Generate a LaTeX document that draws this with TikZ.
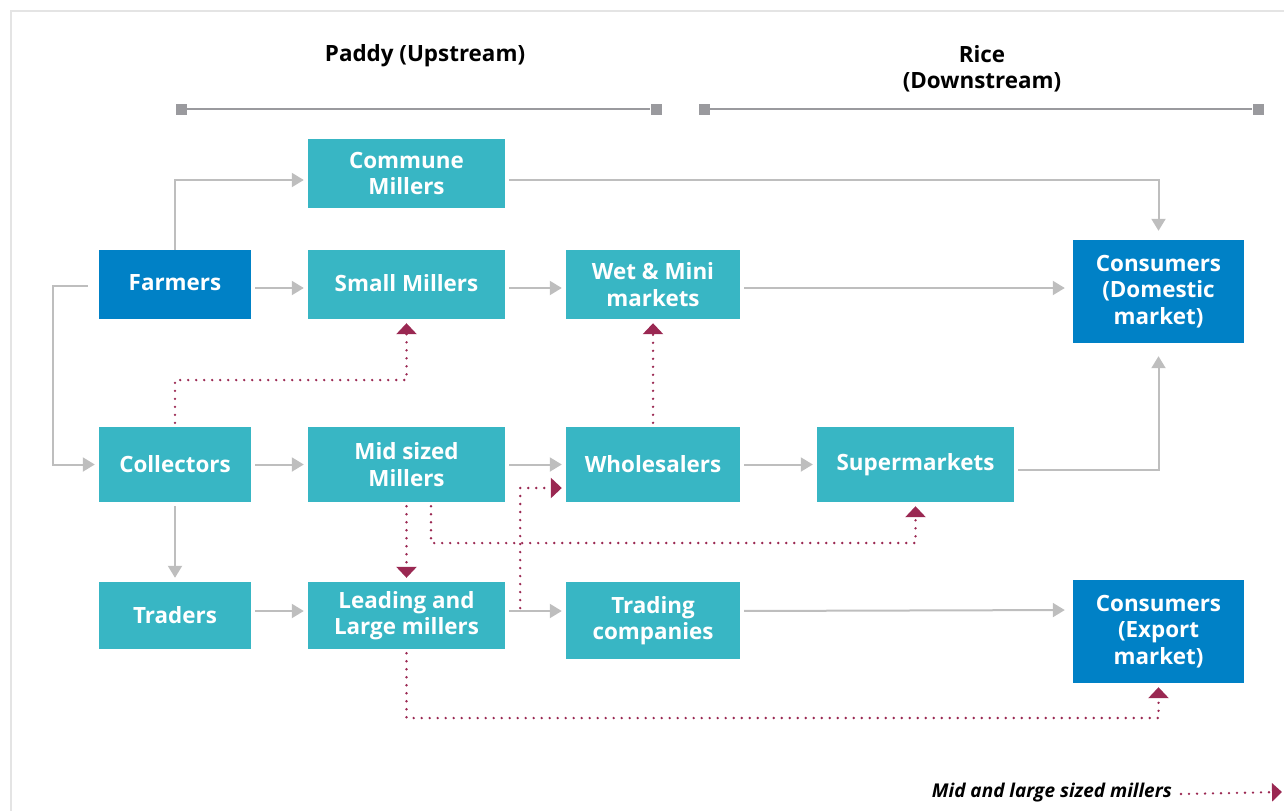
\documentclass[tikz,border=0pt]{standalone}
\usepackage{fontspec}
\setmainfont{Open Sans}
\usetikzlibrary{arrows.meta,calc}
\definecolor{tealbox}{HTML}{38B6C4}
\definecolor{bluebox}{HTML}{0081C6}
\definecolor{maroonline}{HTML}{9A2852}
\definecolor{arrgray}{HTML}{BEBEBE}
\definecolor{bargray}{HTML}{9A9A9E}
\definecolor{framegray}{HTML}{E4E4E4}
\tikzset{
  box/.style={fill=tealbox, text=white, font=\fontsize{22.4}{26.5}\selectfont\bfseries, align=center, inner sep=0pt},
  bbox/.style={box, fill=bluebox},
  garrow/.style={draw=arrgray, line width=2pt, -{Triangle[length=12pt,width=14pt]}, shorten >=4pt, shorten <=4pt},
  marrow/.style={draw=maroonline, line width=2.6pt, line cap=round, dash pattern=on 0pt off 8pt, -{Triangle[length=11pt,width=20pt]}, shorten >=4pt, shorten <=4pt},
  header/.style={font=\fontsize{22.4}{26.5}\selectfont\bfseries, align=center, inner sep=0pt},
  legtext/.style={font=\fontsize{19}{22}\selectfont\bfseries\itshape, inner sep=0pt},
  barline/.style={draw=bargray, line width=2.6pt},
  barsq/.style={fill=bargray, minimum size=11pt, inner sep=0pt},
}
\begin{document}
\begin{tikzpicture}[x=1pt,y=-1pt]
\useasboundingbox (0,0) rectangle (1284,811);
\draw[framegray, line width=2pt] (10.5,811) -- (10.5,10.5) -- (1284,10.5);

% headers
\node[header] (hpaddy) at (425,56) {Paddy (Upstream)};
\node[header] (hrice) at (982,69) {Rice\\(Downstream)};
\node[barsq] (b1) at (181,109) {};
\node[barsq] (b2) at (656,109) {};
\node[barsq] (b3) at (704,109) {};
\node[barsq] (b4) at (1258,109) {};
\draw[barline] (b1) -- (b2);
\draw[barline] (b3) -- (b4);

% boxes
\node[box, minimum width=197pt, minimum height=69pt] (commune) at (406.5,173.5) {Commune\\Millers};
\node[bbox, minimum width=152pt, minimum height=69pt] (farmers) at (175,284.5) {\raisebox{3pt}{Farmers}};
\node[box, minimum width=197pt, minimum height=69pt] (small) at (406.5,284.5) {\raisebox{3pt}{Small Millers}};
\node[box, minimum width=174pt, minimum height=69pt] (wet) at (653,284.5) {Wet \& Mini\\markets};
\node[bbox, minimum width=171pt, minimum height=103pt] (consd) at (1158.5,291.5) {Consumers\\(Domestic\\market)};
\node[box, minimum width=152pt, minimum height=75pt] (collectors) at (175,464.5) {\raisebox{2pt}{Collectors}};
\node[box, minimum width=197pt, minimum height=75pt] (mid) at (406.5,464.5) {Mid sized\\Millers};
\node[box, minimum width=174pt, minimum height=75pt] (wholesalers) at (653,464.5) {\raisebox{2pt}{Wholesalers}};
\node[box, minimum width=197pt, minimum height=75pt] (super) at (915.5,464.5) {Supermarkets};
\node[box, minimum width=152pt, minimum height=67pt] (traders) at (175,615.5) {\raisebox{2pt}{Traders}};
\node[box, minimum width=197pt, minimum height=67pt] (leading) at (406.5,615.5) {Leading and\\Large millers};
\node[box, minimum width=174pt, minimum height=77pt] (trading) at (653,620.5) {Trading\\companies};
\node[bbox, minimum width=171pt, minimum height=103pt] (conse) at (1158.5,631.5) {Consumers\\(Export\\market)};

% gray connectors
\draw[garrow, shorten <=0pt] (farmers.north) |- ([yshift=-6.5pt]commune.west);
\draw[garrow, shorten >=9pt] ([yshift=-6.5pt]commune.east) -| (consd.north);
\draw[garrow] ([yshift=-3.5pt]farmers.east) -- ([yshift=-3.5pt]small.west);
\draw[garrow] ([yshift=-3.5pt]small.east) -- ([yshift=-3.5pt]wet.west);
\draw[garrow, shorten >=8pt] ([yshift=-3.5pt]wet.east) -- ([yshift=3.5pt]consd.west);
\coordinate (fl) at (53,286);
\draw[garrow, shorten <=0pt] ([xshift=-11pt,yshift=-1.5pt]farmers.west) -- (fl) |- (collectors.west);
\draw[garrow] (collectors.east) -- (mid.west);
\draw[garrow] (mid.east) -- (wholesalers.west);
\draw[garrow] (wholesalers.east) -- (super.west);
\draw[garrow, shorten >=13pt] ([yshift=-5.5pt]super.east) -| (consd.south);
\draw[garrow] (collectors.south) -- (traders.north);
\draw[garrow] ([yshift=4.5pt]traders.east) -- ([yshift=4.5pt]leading.west);
\draw[garrow] ([yshift=4.5pt]leading.east) -- ([yshift=9.5pt]trading.west);
\draw[garrow, shorten >=8pt] ([yshift=9.5pt]trading.east) -- ([yshift=21.5pt]conse.west);

% maroon dotted connectors
\coordinate (m1) at (406.5,380);
\draw[marrow] (collectors.north) |- (m1) -- (small.south);
\draw[marrow] (wholesalers.north) -- (wet.south);
\draw[marrow] (mid.south) -- (leading.north);
\coordinate (m4) at (431,543);
\draw[marrow] ([xshift=24.5pt]mid.south) -- (m4) -| (super.south);
\draw[marrow, shorten <=0pt] ([xshift=15pt,yshift=7.5pt]leading.east) |- ([yshift=-23.5pt]wholesalers.west);
\coordinate (m6) at (406.5,718);
\draw[marrow] (leading.south) -- (m6) -| (conse.south);

% legend
\node[legtext, anchor=east] (leg) at (1172,793) {Mid and large sized millers};
\coordinate (legend end) at (1282,792);
\draw[marrow, shorten <=0pt, shorten >=0pt, -{Triangle[length=10pt,width=18pt]}] ([xshift=9pt,yshift=-1pt]leg.east) -- (legend end);
\end{tikzpicture}
\end{document}
